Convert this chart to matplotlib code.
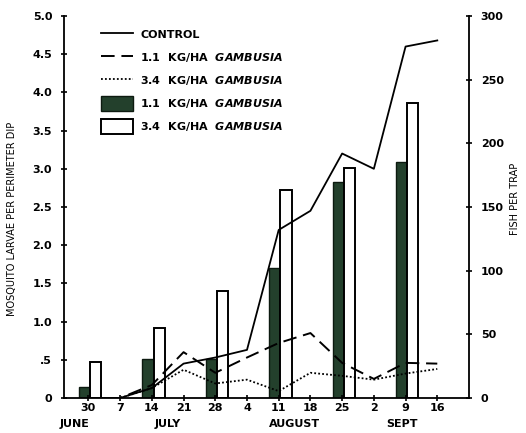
import matplotlib
matplotlib.use('Agg')
import matplotlib.pyplot as plt
from matplotlib.patches import Patch
from matplotlib.lines import Line2D

# weekly sample dates (June 30 .. Sept 16)
day_labels = ['30', '7', '14', '21', '28', '4', '11', '18', '25', '2', '9', '16']
month_labels = ['JUNE', 'JULY', 'AUGUST', 'SEPT']
month_pos = [-0.45, 2.5, 6.5, 9.9]

# mosquito larvae per perimeter dip (left axis)
control = [0.0, 0.0, 0.13, 0.45, 0.53, 0.63, 2.2, 2.45, 3.2, 3.0, 4.6, 4.68]
gamb_11_larvae = [0.0, 0.0, 0.17, 0.6, 0.33, 0.53, 0.72, 0.85, 0.46, 0.25, 0.46, 0.45]
gamb_34_larvae = [0.0, 0.0, 0.13, 0.37, 0.19, 0.24, 0.09, 0.33, 0.29, 0.24, 0.32, 0.38]

# fish per trap (right axis), every second week
bar_weeks = [0, 2, 4, 6, 8, 10]
fish_11 = [9, 31, 31, 102, 170, 185]
fish_34 = [28, 55, 84, 163, 181, 232]

plt.rcParams['font.family'] = ['DejaVu Sans']
plt.rcParams['font.weight'] = 'bold'
plt.rcParams['mathtext.fontset'] = 'custom'
plt.rcParams['mathtext.it'] = 'DejaVu Sans:bold:italic'

weeks = list(range(len(day_labels)))

fig = plt.figure(figsize=(5.26, 4.33), dpi=100)
ax = fig.add_axes([64 / 526, 35 / 433, 405 / 526, 382 / 433])
ax2 = ax.twinx()
ax.set_zorder(ax2.get_zorder() + 1)
ax.patch.set_visible(False)

# bars on the right axis
w = 0.35
ax2.bar([x - 0.12 for x in bar_weeks], fish_11, width=w, color='#23402c',
        edgecolor='#0d1a10', linewidth=1.0)
ax2.bar([x + 0.23 for x in bar_weeks], fish_34, width=w, color='white',
        edgecolor='black', linewidth=1.4)

# lines on the left axis
ax.plot(weeks, control, color='black', lw=1.3)
ax.plot(weeks, gamb_11_larvae, color='black', lw=1.4, dashes=(7, 3.5))
ax.plot(weeks, gamb_34_larvae, color='black', lw=1.3, dashes=(1, 1.2))

ax.set_xlim(-0.77, 12.0)
ax.set_ylim(0, 5.0)
ax2.set_ylim(0, 300)

for a in (ax, ax2):
    a.spines['top'].set_visible(False)
    a.tick_params(direction='inout', length=5, width=1.2, labelsize=8)
ax.spines['right'].set_visible(False)
ax2.spines['left'].set_visible(False)
for s in ('left', 'bottom'):
    ax.spines[s].set_linewidth(1.3)
ax2.spines['right'].set_linewidth(1.3)
ax2.spines['bottom'].set_visible(False)

ax.set_yticks([0, 0.5, 1, 1.5, 2, 2.5, 3, 3.5, 4, 4.5, 5])
ax.set_yticklabels(['0', '.5', '1.0', '1.5', '2.0', '2.5', '3.0', '3.5',
                    '4.0', '4.5', '5.0'])
ax2.set_yticks([0, 50, 100, 150, 200, 250, 300])
ax.set_xticks(weeks)
ax.set_xticklabels(day_labels)
ax.tick_params(axis='x', pad=1)
ax.tick_params(axis='y', pad=6)
ax2.tick_params(axis='y', pad=6)

for m, x in zip(month_labels, month_pos):
    ax.text(x, -0.056, m, ha='center', va='top', fontsize=8,
            transform=ax.get_xaxis_transform())

ax.set_ylabel('MOSQUITO LARVAE PER PERIMETER DIP', fontsize=7, labelpad=8)
ax2.set_ylabel('FISH PER TRAP', fontsize=7, labelpad=16)
ax.yaxis.set_label_coords(-0.115, 0.47)
ax2.yaxis.set_label_coords(1.1, 0.52)

handles = [
    Line2D([], [], color='black', lw=1.3),
    Line2D([], [], color='black', lw=1.4, dashes=(7, 3.5)),
    Line2D([], [], color='black', lw=1.3, dashes=(1, 1.2)),
    Patch(facecolor='#23402c', edgecolor='#0d1a10', lw=1.0),
    Patch(facecolor='white', edgecolor='black', lw=1.4),
]
labels = [
    'CONTROL',
    r'1.1  KG/HA  $\mathit{GAMBUSIA}$',
    r'3.4  KG/HA  $\mathit{GAMBUSIA}$',
    r'1.1  KG/HA  $\mathit{GAMBUSIA}$',
    r'3.4  KG/HA  $\mathit{GAMBUSIA}$',
]
ax.legend(handles, labels, loc='upper left', frameon=False, fontsize=8,
          bbox_to_anchor=(97 / 526, 1 - 23 / 433),
          bbox_transform=fig.transFigure, borderaxespad=0,
          handlelength=2.8, handleheight=1.6, labelspacing=0.78,
          handletextpad=0.7)

fig.savefig('out.png', dpi=100)
